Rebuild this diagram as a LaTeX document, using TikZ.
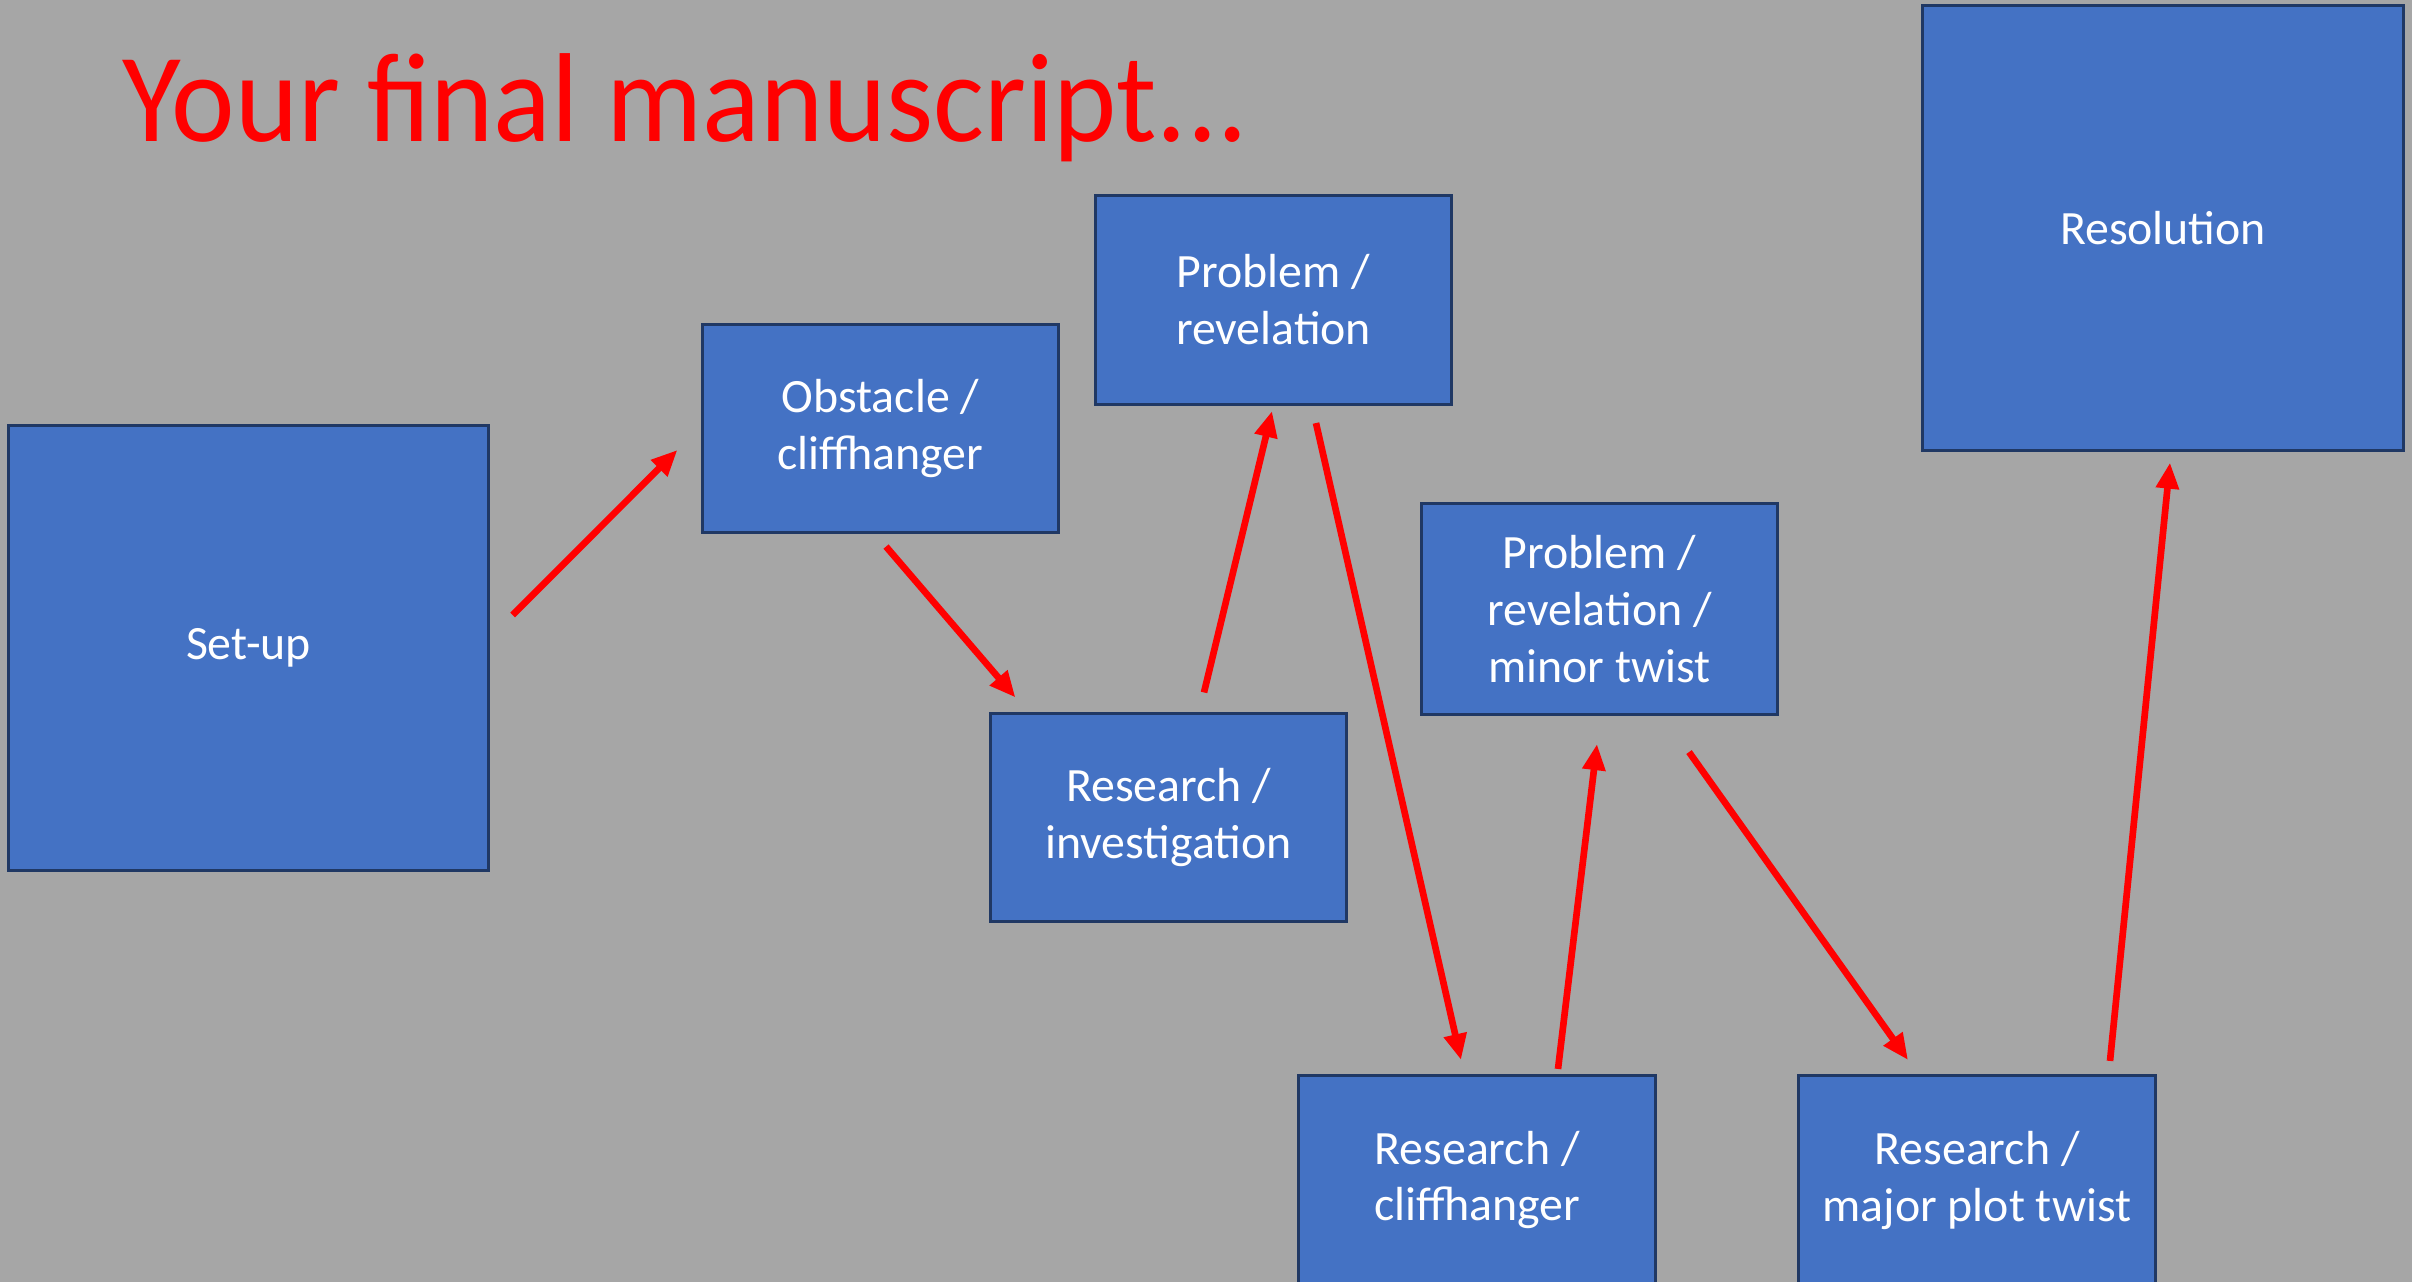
\documentclass[tikz,border=0pt]{standalone}
\usepackage{fontspec}
\setmainfont{Carlito}
\usetikzlibrary{arrows.meta,calc}
\definecolor{slidegray}{HTML}{A6A6A6}
\definecolor{boxblue}{HTML}{4472C4}
\definecolor{boxline}{HTML}{203864}
\definecolor{penred}{HTML}{FF0000}

\begin{document}
\begin{tikzpicture}[
  x=0.01cm, y=-0.01cm,
  every node/.style={rectangle, inner sep=0pt, outer sep=0pt},
  stage/.style={draw=boxline, line width=0.85pt, fill=boxblue, text=white, align=center,
    font=\fontsize{13.6}{16.2}\selectfont},
  small stage/.style={stage, minimum width=3.56cm, minimum height=2.08cm},
  big stage/.style={stage, minimum width=4.8cm, minimum height=4.45cm},
  flow/.style={draw=penred, line width=1.9pt, -{Triangle[length=0.26cm, width=0.22cm]}}
]
\useasboundingbox (0,0) rectangle (2412,1282);
\fill[slidegray] (0,0) rectangle (2412,1282);
\clip (0,0) rectangle (2412,1282);

\node[text=penred, anchor=base west, xscale=0.95, font=\fontsize{36}{40}\selectfont]
  (title) at (122,142) {Your final manuscript...};

\node[big stage] (setup) at (248.5,648) {Set-up};
\node[small stage] (obstacle) at (880.5,428.5) {Obstacle /\\cliffhanger};
\node[small stage] (problem) at (1273.5,300) {Problem /\\revelation};
\node[small stage] (investigation) at (1168.5,817.5) {Research /\\investigation};
\node[small stage, minimum height=2.1cm] (minortwist) at (1599.5,609) {Problem /\\revelation /\\minor twist};
\node[small stage] (cliffhanger) at (1477,1180) {Research /\\cliffhanger};
\node[small stage] (plottwist) at (1977,1180) {Research /\\major plot twist};
\node[big stage] (resolution) at (2163,228) {Resolution};

\draw[flow] ($(setup.east)+(24,-33)$) -- ($(obstacle.west)+(-25,21.5)$);
\draw[flow] ($(obstacle.south)+(5.5,14)$) -- ($(investigation.north west)+(25,-16)$);
\draw[flow] ($(investigation.north)+(35.5,-21)$) -- ($(problem.south)+(-1.5,7)$);
\draw[flow] ($(problem.south)+(42.5,19)$) -- ($(cliffhanger.north)+(-16,-16)$);
\draw[flow] ($(cliffhanger.north)+(81,-7)$) -- ($(minortwist.south)+(-2.5,30)$);
\draw[flow] ($(minortwist.south)+(89.5,38)$) -- ($(plottwist.north)+(-69,-16)$);
\draw[flow] ($(plottwist.north)+(133,-15)$) -- ($(resolution.south)+(7,12)$);
\end{tikzpicture}
\end{document}
